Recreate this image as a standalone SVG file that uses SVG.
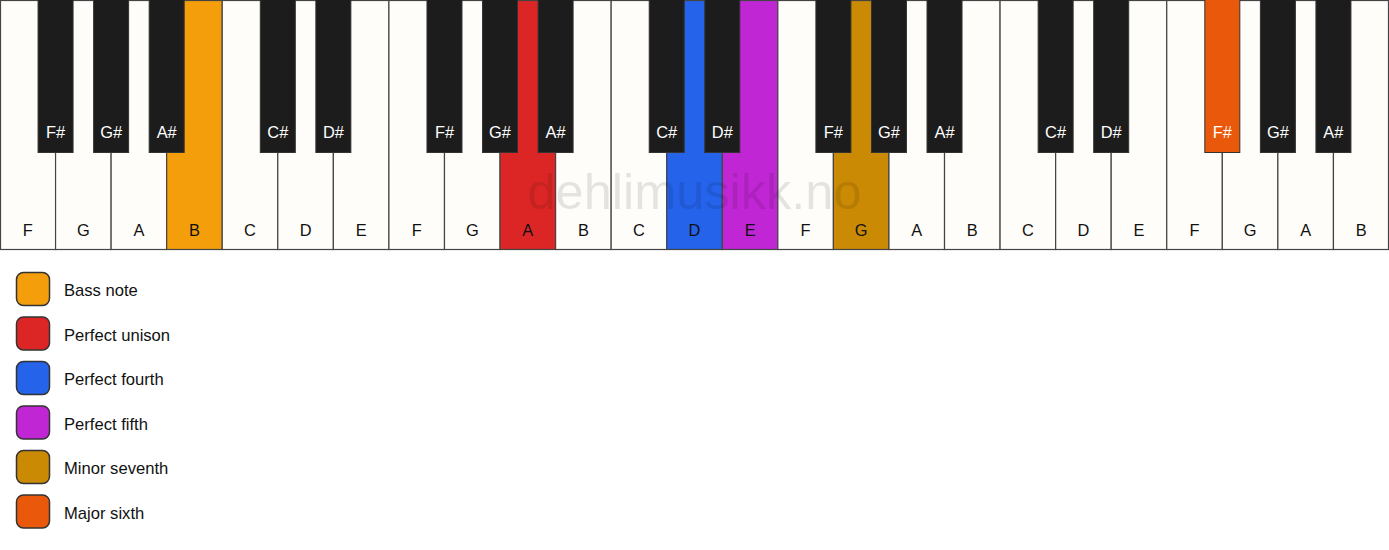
<svg xmlns="http://www.w3.org/2000/svg" width="1389" height="550" viewBox="0 0 1389 550">
<style>
.w{fill:#fffdf9;stroke:#444;stroke-width:1.2}
.b{fill:#1c1c1c;stroke:#333;stroke-width:1}
.wl{font-family:"Liberation Sans",Arial,sans-serif;font-size:16.4px;fill:#111;text-anchor:middle}
.bl{font-family:"Liberation Sans",Arial,sans-serif;font-size:16.4px;fill:#fff;text-anchor:middle}
.lg{font-family:"Liberation Sans",Arial,sans-serif;font-size:16.6px;fill:#111}
.sw{stroke:#333;stroke-width:1.5}
.wm{font-family:"Liberation Sans",Arial,sans-serif;font-size:50.5px;fill:#000;fill-opacity:0.1;text-anchor:middle}
</style>
<rect width="1389" height="550" fill="#ffffff"/>
<g id="white-keys">
<g id="wk-0"><rect class="w" x="0.5" y="0.5" width="55.56" height="249"/><text class="wl" x="27.8" y="236">F</text></g>
<g id="wk-1"><rect class="w" x="55.56" y="0.5" width="55.56" height="249"/><text class="wl" x="83.3" y="236">G</text></g>
<g id="wk-2"><rect class="w" x="111.12" y="0.5" width="55.56" height="249"/><text class="wl" x="138.9" y="236">A</text></g>
<g id="wk-3"><rect class="w" x="166.68" y="0.5" width="55.56" height="249" style="fill:#f59e0b"/><text class="wl" x="194.5" y="236">B</text></g>
<g id="wk-4"><rect class="w" x="222.24" y="0.5" width="55.56" height="249"/><text class="wl" x="250" y="236">C</text></g>
<g id="wk-5"><rect class="w" x="277.8" y="0.5" width="55.56" height="249"/><text class="wl" x="305.6" y="236">D</text></g>
<g id="wk-6"><rect class="w" x="333.36" y="0.5" width="55.56" height="249"/><text class="wl" x="361.1" y="236">E</text></g>
<g id="wk-7"><rect class="w" x="388.92" y="0.5" width="55.56" height="249"/><text class="wl" x="416.7" y="236">F</text></g>
<g id="wk-8"><rect class="w" x="444.48" y="0.5" width="55.56" height="249"/><text class="wl" x="472.3" y="236">G</text></g>
<g id="wk-9"><rect class="w" x="500.04" y="0.5" width="55.56" height="249" style="fill:#dc2626"/><text class="wl" x="527.8" y="236">A</text></g>
<g id="wk-10"><rect class="w" x="555.6" y="0.5" width="55.56" height="249"/><text class="wl" x="583.4" y="236">B</text></g>
<g id="wk-11"><rect class="w" x="611.16" y="0.5" width="55.56" height="249"/><text class="wl" x="638.9" y="236">C</text></g>
<g id="wk-12"><rect class="w" x="666.72" y="0.5" width="55.56" height="249" style="fill:#2563eb"/><text class="wl" x="694.5" y="236">D</text></g>
<g id="wk-13"><rect class="w" x="722.28" y="0.5" width="55.56" height="249" style="fill:#c026d3"/><text class="wl" x="750.1" y="236">E</text></g>
<g id="wk-14"><rect class="w" x="777.84" y="0.5" width="55.56" height="249"/><text class="wl" x="805.6" y="236">F</text></g>
<g id="wk-15"><rect class="w" x="833.4" y="0.5" width="55.56" height="249" style="fill:#ca8a04"/><text class="wl" x="861.2" y="236">G</text></g>
<g id="wk-16"><rect class="w" x="888.96" y="0.5" width="55.56" height="249"/><text class="wl" x="916.7" y="236">A</text></g>
<g id="wk-17"><rect class="w" x="944.52" y="0.5" width="55.56" height="249"/><text class="wl" x="972.3" y="236">B</text></g>
<g id="wk-18"><rect class="w" x="1000.08" y="0.5" width="55.56" height="249"/><text class="wl" x="1027.9" y="236">C</text></g>
<g id="wk-19"><rect class="w" x="1055.64" y="0.5" width="55.56" height="249"/><text class="wl" x="1083.4" y="236">D</text></g>
<g id="wk-20"><rect class="w" x="1111.2" y="0.5" width="55.56" height="249"/><text class="wl" x="1139" y="236">E</text></g>
<g id="wk-21"><rect class="w" x="1166.76" y="0.5" width="55.56" height="249"/><text class="wl" x="1194.5" y="236">F</text></g>
<g id="wk-22"><rect class="w" x="1222.32" y="0.5" width="55.56" height="249"/><text class="wl" x="1250.1" y="236">G</text></g>
<g id="wk-23"><rect class="w" x="1277.88" y="0.5" width="55.56" height="249"/><text class="wl" x="1305.7" y="236">A</text></g>
<g id="wk-24"><rect class="w" x="1333.44" y="0.5" width="55.06" height="249"/><text class="wl" x="1361.2" y="236">B</text></g>
</g>
<g id="black-keys">
<g id="bk-1"><rect class="b" x="38.06" y="-1" width="35" height="153.5"/><text class="bl" x="55.6" y="138">F#</text></g>
<g id="bk-2"><rect class="b" x="93.62" y="-1" width="35" height="153.5"/><text class="bl" x="111.1" y="138">G#</text></g>
<g id="bk-3"><rect class="b" x="149.18" y="-1" width="35" height="153.5"/><text class="bl" x="166.7" y="138">A#</text></g>
<g id="bk-5"><rect class="b" x="260.3" y="-1" width="35" height="153.5"/><text class="bl" x="277.8" y="138">C#</text></g>
<g id="bk-6"><rect class="b" x="315.86" y="-1" width="35" height="153.5"/><text class="bl" x="333.4" y="138">D#</text></g>
<g id="bk-8"><rect class="b" x="426.98" y="-1" width="35" height="153.5"/><text class="bl" x="444.5" y="138">F#</text></g>
<g id="bk-9"><rect class="b" x="482.54" y="-1" width="35" height="153.5"/><text class="bl" x="500" y="138">G#</text></g>
<g id="bk-10"><rect class="b" x="538.1" y="-1" width="35" height="153.5"/><text class="bl" x="555.6" y="138">A#</text></g>
<g id="bk-12"><rect class="b" x="649.22" y="-1" width="35" height="153.5"/><text class="bl" x="666.7" y="138">C#</text></g>
<g id="bk-13"><rect class="b" x="704.78" y="-1" width="35" height="153.5"/><text class="bl" x="722.3" y="138">D#</text></g>
<g id="bk-15"><rect class="b" x="815.9" y="-1" width="35" height="153.5"/><text class="bl" x="833.4" y="138">F#</text></g>
<g id="bk-16"><rect class="b" x="871.46" y="-1" width="35" height="153.5"/><text class="bl" x="889" y="138">G#</text></g>
<g id="bk-17"><rect class="b" x="927.02" y="-1" width="35" height="153.5"/><text class="bl" x="944.5" y="138">A#</text></g>
<g id="bk-19"><rect class="b" x="1038.14" y="-1" width="35" height="153.5"/><text class="bl" x="1055.6" y="138">C#</text></g>
<g id="bk-20"><rect class="b" x="1093.7" y="-1" width="35" height="153.5"/><text class="bl" x="1111.2" y="138">D#</text></g>
<g id="bk-22"><rect class="b" x="1204.82" y="-1" width="35" height="153.5" style="fill:#ea580c"/><text class="bl" x="1222.3" y="138">F#</text></g>
<g id="bk-23"><rect class="b" x="1260.38" y="-1" width="35" height="153.5"/><text class="bl" x="1277.9" y="138">G#</text></g>
<g id="bk-24"><rect class="b" x="1315.94" y="-1" width="35" height="153.5"/><text class="bl" x="1333.4" y="138">A#</text></g>
</g>
<text class="wm" x="694.5" y="209">dehlimusikk.no</text>
<g id="connectors"></g>
<g id="legend">
<g id="lg-bass"><rect class="sw" x="16.5" y="272.5" width="33" height="33" rx="7" fill="#f59e0b"/><text class="lg" x="64" y="296">Bass note</text></g>
<g id="lg-unison"><rect class="sw" x="16.5" y="317" width="33" height="33" rx="7" fill="#dc2626"/><text class="lg" x="64" y="340.5">Perfect unison</text></g>
<g id="lg-fourth"><rect class="sw" x="16.5" y="361.5" width="33" height="33" rx="7" fill="#2563eb"/><text class="lg" x="64" y="385">Perfect fourth</text></g>
<g id="lg-fifth"><rect class="sw" x="16.5" y="406" width="33" height="33" rx="7" fill="#c026d3"/><text class="lg" x="64" y="429.5">Perfect fifth</text></g>
<g id="lg-seventh"><rect class="sw" x="16.5" y="450.5" width="33" height="33" rx="7" fill="#ca8a04"/><text class="lg" x="64" y="474">Minor seventh</text></g>
<g id="lg-sixth"><rect class="sw" x="16.5" y="495" width="33" height="33" rx="7" fill="#ea580c"/><text class="lg" x="64" y="518.5">Major sixth</text></g>
</g>
</svg>
